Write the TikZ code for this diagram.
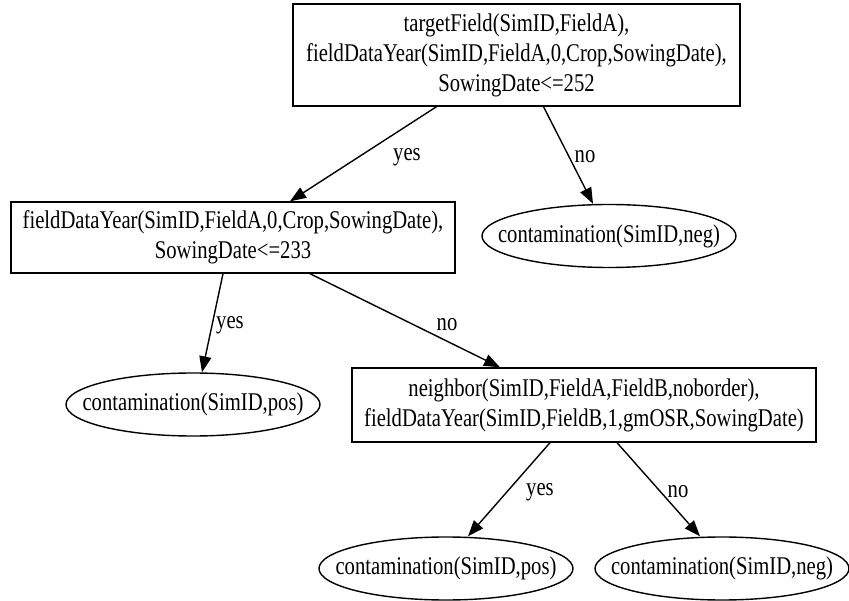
\documentclass[tikz,border=0pt]{standalone}
\usepackage{fontspec}
\setmainfont{Liberation Serif}[FakeStretch=0.81]
\usetikzlibrary{arrows.meta,shapes.geometric}

\newcommand{\leaftext}[1]{\makebox[0pt]{#1}}

\tikzset{
    cond/.style = {draw, rectangle, inner sep = 0pt, align = center},
    leaf/.style = {draw, ellipse, inner sep = 0pt, minimum width = 254pt, minimum height = 63pt},
    arr/.style = {-{Triangle[length = 16pt, width = 12pt]}}
}

\begin{document}
\begin{tikzpicture}[x = 1pt, y = -1pt, line width = 1.4pt, font = \fontsize{25.5}{30}\selectfont]
            \useasboundingbox (0, 0) rectangle (849, 601);

            \draw
                (516.5, 55) node (root) [cond, minimum width = 447pt, minimum height = 102pt]
                    {targetField(SimID,FieldA),\\fieldDataYear(SimID,FieldA,0,Crop,SowingDate),\\SowingDate<=252}
                (233, 237.5) node (sow) [cond, minimum width = 444pt, minimum height = 71pt]
                    {fieldDataYear(SimID,FieldA,0,Crop,SowingDate),\\SowingDate<=233}
                (584, 405) node (nbr) [cond, minimum width = 464pt, minimum height = 74pt]
                    {neighbor(SimID,FieldA,FieldB,noborder),\\fieldDataYear(SimID,FieldB,1,gmOSR,SowingDate)}

                (609, 236) node (neg1) [leaf] {\leaftext{contamination(SimID,neg)}}
                (193, 404.5) node (pos1) [leaf] {\leaftext{contamination(SimID,pos)}}
                (446, 568.5) node (pos2) [leaf] {\leaftext{contamination(SimID,pos)}}
                (722, 568.5) node (neg2) [leaf] {\leaftext{contamination(SimID,neg)}}

                ([xshift = -80pt] root.south) edge [arr] ([xshift = 57pt] sow.north)
                ([xshift = 27pt] root.south) edge [arr] ([xshift = -16pt] neg1.north)
                ([xshift = -10pt] sow.south) edge [arr] ([xshift = 9pt] pos1.north)
                ([xshift = 77pt] sow.south) edge [arr] ([xshift = -84pt] nbr.north)
                ([xshift = -34pt] nbr.south) edge [arr] ([xshift = 22pt] pos2.north)
                ([xshift = 33pt] nbr.south) edge [arr] ([xshift = -22pt] neg2.north)

                (407, 157) node (yes1) {yes}
                (585, 157) node (no1) {no}
                (230, 325) node (yes2) {yes}
                (447, 325) node (no2) {no}
                (540, 492) node (yes3) {yes}
                (678, 492) node (no3) {no}
            ;
        \end{tikzpicture}
\end{document}
